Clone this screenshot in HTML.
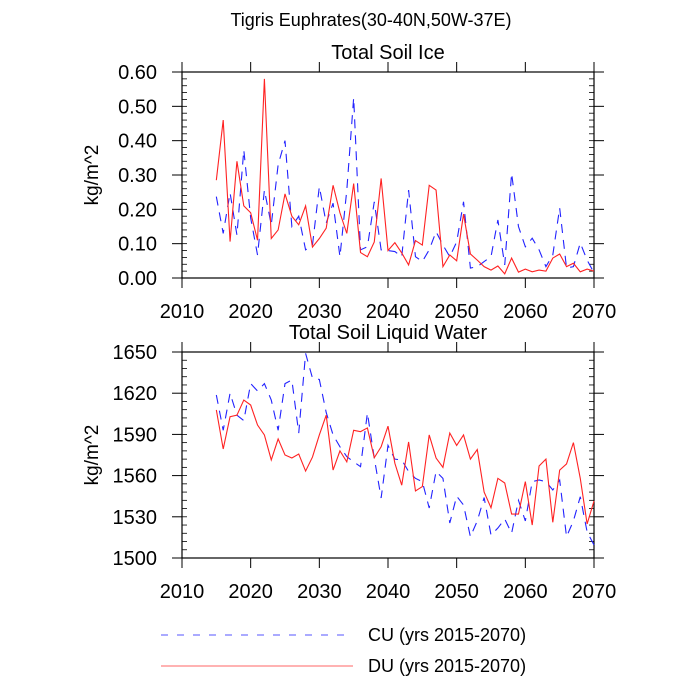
<!DOCTYPE html>
<html><head><meta charset="utf-8"><style>
body{margin:0;background:#fff}
svg{display:block;font-family:"Liberation Sans",sans-serif}
</style></head><body>
<svg id="chart" width="700" height="700" xmlns="http://www.w3.org/2000/svg">
<text x="371" y="26" font-size="18" text-anchor="middle">Tigris Euphrates(30-40N,50W-37E)</text>
<g id="p1"></g>
<g id="p2"></g>
<g>
<line x1="161" y1="635" x2="353" y2="635" stroke="#5555ff" stroke-width="1" stroke-dasharray="7,9"/>
<text x="368" y="641" font-size="18">CU (yrs 2015-2070)</text>
<line x1="161" y1="666" x2="353" y2="666" stroke="#ff6666" stroke-width="1"/>
<text x="368" y="672" font-size="18">DU (yrs 2015-2070)</text>
</g>
</svg>
<script>
const years=[];for(let y=2015;y<=2070;y++)years.push(y);
const xTicks=[2010,2020,2030,2040,2050,2060,2070];
const iceTicks=["0.00","0.10","0.20","0.30","0.40","0.50","0.60"];
const liqTicks=["1500","1530","1560","1590","1620","1650"];
const iceCU=[0.237,0.13,0.248,0.125,0.373,0.175,0.067,0.256,0.155,0.33,0.40,0.15,0.18,0.082,0.096,0.266,0.16,0.218,0.062,0.256,0.525,0.082,0.091,0.222,0.082,0.08,0.077,0.062,0.256,0.062,0.048,0.082,0.135,0.096,0.062,0.105,0.222,0.029,0.033,0.048,0.062,0.169,0.038,0.305,0.15,0.091,0.116,0.082,0.033,0.067,0.204,0.029,0.033,0.102,0.052,0.015];
const iceDU=[0.285,0.46,0.106,0.34,0.21,0.19,0.11,0.58,0.115,0.14,0.245,0.18,0.155,0.21,0.09,0.115,0.145,0.27,0.19,0.13,0.275,0.074,0.062,0.105,0.29,0.08,0.103,0.073,0.038,0.109,0.096,0.27,0.256,0.033,0.067,0.05,0.186,0.07,0.052,0.033,0.023,0.035,0.012,0.058,0.017,0.026,0.018,0.023,0.02,0.058,0.07,0.033,0.043,0.018,0.026,0.02];
const liqCU=[1618.7,1593,1620,1604,1600,1627,1621.6,1627,1615,1593,1627,1629.6,1591,1649,1631,1630,1606,1589.6,1581,1573.8,1570,1566.5,1605.6,1572.8,1543.7,1582,1572,1571.4,1563,1558,1555.6,1536.4,1563,1558,1525.5,1545,1538.6,1515.5,1527,1544,1516.7,1521.8,1528.4,1518,1542,1527,1555.6,1556.8,1555.6,1549.5,1556.8,1515.5,1527,1544.6,1519,1509.5];
const liqDU=[1607.8,1579.4,1602.9,1604,1615,1611.4,1596.8,1589.6,1571.4,1586.7,1575,1572.8,1575.7,1563.3,1573.5,1589.6,1604,1564,1578,1570,1593,1592,1594.7,1573,1581,1596,1569,1553,1584.5,1548.8,1552,1589.6,1572.8,1566,1591,1582,1589.6,1572,1579,1548,1536.6,1558,1554.6,1532,1532,1555.6,1524,1567,1572,1526,1564,1568.5,1584,1558,1524.8,1541.5];
const NS="http://www.w3.org/2000/svg";
const X0=182,X1=594;
function xs(v){return X0+(v-2010)/60*(X1-X0);}
function mk(tag,at,parent){const e=document.createElementNS(NS,tag);for(const k in at)e.setAttribute(k,at[k]);parent.appendChild(e);return e;}
function panel(g,top,bot,ymin,ymax,ticks,minorStep,title,cu,du,pfx){
  const ys=v=>bot-(v-ymin)/(ymax-ymin)*(bot-top);
  const t=mk('text',{x:388,y:top-13,'font-size':20,'text-anchor':'middle'},g);t.textContent=title;
  
  
  const yt=mk('text',{x:0,y:0,'font-size':19,'text-anchor':'middle',transform:`translate(98,${(top+bot)/2}) rotate(-90)`},g);yt.textContent='kg/m^2';
  
  
  const box=mk('rect',{x:X0,y:top,width:X1-X0,height:bot-top,fill:'none',stroke:'#000','stroke-width':1.2},g);
  
  
  ticks.forEach(s=>{const v=parseFloat(s);const y=ys(v);
    mk('line',{x1:X0-10,y1:y,x2:X0,y2:y,stroke:'#000'},g);
    mk('line',{x1:X1,y1:y,x2:X1+10,y2:y,stroke:'#000'},g);
    const l=mk('text',{x:157,y:y+7,'font-size':20,'text-anchor':'end'},g);l.textContent=s;
    
    });
  for(let v=ymin;v<=ymax+1e-9;v+=minorStep){const y=ys(v);
    mk('line',{x1:X0,y1:y,x2:X0+5,y2:y,stroke:'#000','stroke-width':0.8},g);
    mk('line',{x1:X1-5,y1:y,x2:X1,y2:y,stroke:'#000','stroke-width':0.8},g);}
  xTicks.forEach(v=>{const x=xs(v);
    mk('line',{x1:x,y1:bot,x2:x,y2:bot+10,stroke:'#000'},g);
    mk('line',{x1:x,y1:top-10,x2:x,y2:top,stroke:'#000'},g);
    const l=mk('text',{x:x,y:bot+40,'font-size':20,'text-anchor':'middle'},g);l.textContent=v;
    
    });
  const pc=mk('polyline',{points:years.map((y,i)=>xs(y)+','+ys(cu[i])).join(' '),fill:'none',stroke:'#2222ff','stroke-width':1.1,'stroke-dasharray':'9,7'},g);
  
  
  const pd=mk('polyline',{points:years.map((y,i)=>xs(y)+','+ys(du[i])).join(' '),fill:'none',stroke:'#ff2222','stroke-width':1.1},g);
  
  
}
panel(document.getElementById('p1'),72,278,0,0.6,iceTicks,0.02,'Total Soil Ice',iceCU,iceDU,'ice');
panel(document.getElementById('p2'),352,558,1500,1650,liqTicks,6,'Total Soil Liquid Water',liqCU,liqDU,'liquid');
</script>
</body></html>
